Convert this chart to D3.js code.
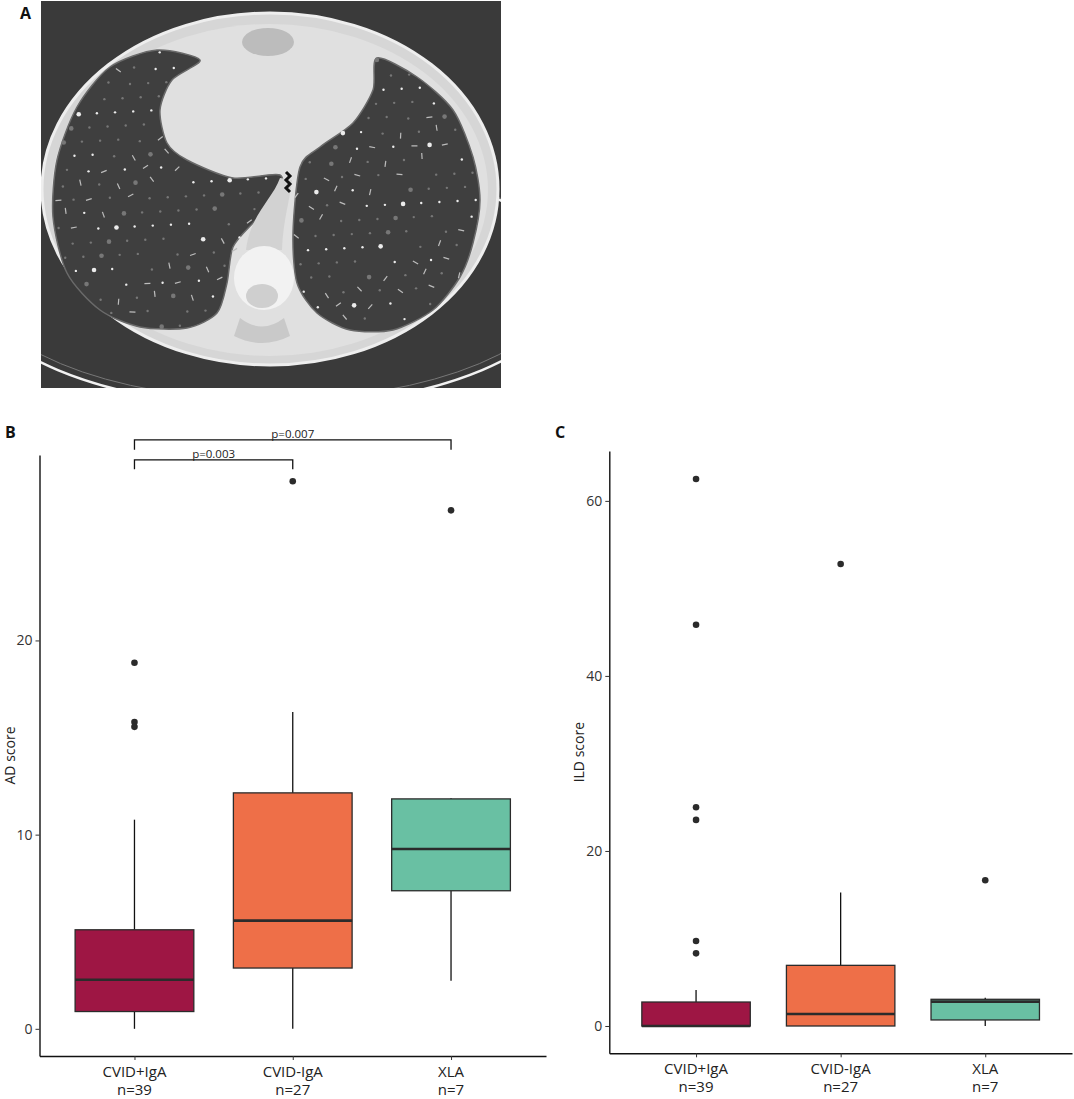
<!DOCTYPE html>
<html>
<head>
<meta charset="utf-8">
<script src="https://cdn.jsdelivr.net/npm/d3@7"></script>
<style>
  html, body { margin: 0; padding: 0; background: #fff; }
  svg { display: block; font-family: "Open Sans", "DejaVu Sans", sans-serif; }
</style>
</head>
<body>
<svg id="chart" width="1074" height="1099"></svg>
<script>
// ---------------- DATA ----------------
const categories = ["CVID+IgA", "CVID-IgA", "XLA"];
const nLabels = ["n=39", "n=27", "n=7"];
const groupColors = ["#9E1644", "#EE6F48", "#69C0A3"];

// Panel B : AD score
const adLow  = [0, 0, 2.47];
const adQ1   = [0.89, 3.13, 7.11];
const adMed  = [2.53, 5.57, 9.26];
const adQ3   = [5.1, 12.15, 11.84];
const adHigh = [10.77, 16.32, 11.87];
const adOutliers = [[18.85, 15.8, 15.55], [28.2], [26.7]];
const adTicks = [0, 10, 20];
const adDomain = [-1.4, 29.55];

// significance brackets for panel B : [from, to, label, bar level, tick end]
const adBrackets = [
  [0, 1, "p=0.003", 29.3, 28.82],
  [0, 2, "p=0.007", 30.33, 29.82]
];

// Panel C : ILD score
const ildLow  = [0, 0, 0];
const ildQ1   = [0, 0, 0.69];
const ildMed  = [0, 1.37, 2.78];
const ildQ3   = [2.74, 6.93, 3.05];
const ildHigh = [4.11, 15.24, 3.24];
const ildOutliers = [[62.5, 45.85, 25.0, 23.55, 9.71, 8.3], [52.78], [16.65]];
const ildTicks = [0, 20, 40, 60];
const ildDomain = [-3.12, 65.7];

// ---------------- DRAW ----------------
const svg = d3.select("#chart");
svg.append("rect").attr("width", 1074).attr("height", 1099).attr("fill", "#fff");

// ---------- Panel A : stylised CT slice ----------
(function drawCT() {
  const g = svg.append("g");
  const x0 = 41, y0 = 1, w = 460, h = 387;
  svg.append("clipPath").attr("id", "ctclip")
    .append("rect").attr("x", x0).attr("y", y0).attr("width", w).attr("height", h);
  const c = g.append("g").attr("clip-path", "url(#ctclip)");
  c.append("rect").attr("x", x0).attr("y", y0).attr("width", w).attr("height", h).attr("fill", "#3a3a3a");
  // table arcs
  c.append("ellipse").attr("cx", 270).attr("cy", 281).attr("rx", 300).attr("ry", 126)
    .attr("fill", "none").attr("stroke", "#f2f2f2").attr("stroke-width", 2.6);
  c.append("ellipse").attr("cx", 270).attr("cy", 276).attr("rx", 296).attr("ry", 124)
    .attr("fill", "none").attr("stroke", "#777").attr("stroke-width", 1);
  // body
  c.append("ellipse").attr("cx", 270).attr("cy", 189).attr("rx", 228).attr("ry", 176)
    .attr("fill", "#d6d6d6").attr("stroke", "#eeeeee").attr("stroke-width", 3);
  c.append("ellipse").attr("cx", 270).attr("cy", 190).attr("rx", 218).attr("ry", 166)
    .attr("fill", "#e0e0e0");
  // sternum area
  c.append("ellipse").attr("cx", 268).attr("cy", 42).attr("rx", 26).attr("ry", 14).attr("fill", "#bcbcbc");
  const line = d3.line().curve(d3.curveCardinalClosed.tension(0.2));
  const leftLung = [[157,50],[200,60],[172,80],[160,110],[167,143],[187,160],[233,178],[280,175],
    [277,200],[253,223],[233,247],[227,283],[217,313],[187,328],[140,327],[100,310],[67,273],
    [53,217],[57,160],[77,107],[110,67]];
  const rightLung = [[377,58],[417,77],[453,110],[473,157],[480,200],[473,243],[460,277],[433,310],
    [393,330],[350,330],[317,313],[297,283],[293,233],[300,167],[320,147],[353,123],[373,90]];
  [leftLung, rightLung].forEach(p => {
    c.append("path").attr("d", line(p)).attr("fill", "#3f3f3f").attr("stroke", "#6a6a6a").attr("stroke-width", 1.5);
  });
  // vessels: deterministic lattice of bright specks / short strokes inside the lungs
  const specks = [];
  for (let i = 0; i < 620; i++) {
    const px = x0 + ((i * 0.6180339887) % 1) * w;
    const py = y0 + ((i * 0.7548776662) % 1) * h;
    if (d3.polygonContains(leftLung, [px, py]) || d3.polygonContains(rightLung, [px, py])) specks.push([px, py, i]);
  }
  c.selectAll("line.vs").data(specks.filter(d => d[2] % 4 === 1)).join("line").attr("class", "vs")
    .attr("x1", d => d[0]).attr("y1", d => d[1])
    .attr("x2", d => d[0] + 6 * Math.cos(d[2])).attr("y2", d => d[1] + 6 * Math.sin(d[2]))
    .attr("stroke", "#bdbdbd").attr("stroke-width", 1.2);
  c.selectAll("circle.sp").data(specks.filter(d => d[2] % 4 !== 1)).join("circle").attr("class", "sp")
    .attr("cx", d => d[0]).attr("cy", d => d[1]).attr("r", d => (d[2] % 5 === 0 ? 2.3 : 1.2))
    .attr("fill", d => (d[2] % 3 === 0 ? "#ececec" : "#777"));
  // mediastinal column + spine
  c.append("path").attr("d", "M280,178 C272,200 250,215 246,250 L282,250 C283,220 290,200 292,180 Z").attr("fill", "#d2d2d2");
  c.append("ellipse").attr("cx", 264).attr("cy", 278).attr("rx", 30).attr("ry", 32).attr("fill", "#f2f2f2");
  c.append("ellipse").attr("cx", 262).attr("cy", 296).attr("rx", 16).attr("ry", 12).attr("fill", "#cfcfcf");
  c.append("path").attr("d", "M240,318 Q262,335 284,318 L290,336 Q262,350 234,336 Z").attr("fill", "#c9c9c9");
  c.append("path").attr("d", "M286,172 l4,4 -4,4 4,4 -4,4 4,4").attr("fill", "none").attr("stroke", "#111").attr("stroke-width", 3);
})();

// ---------- panel labels ----------
svg.append("text").attr("x", 20).attr("y", 19).attr("font-size", 16).attr("font-weight", "bold").attr("fill", "#111").text("A");
svg.append("text").attr("x", 5).attr("y", 438).attr("font-size", 16).attr("font-weight", "bold").attr("fill", "#111").text("B");
svg.append("text").attr("x", 555).attr("y", 438).attr("font-size", 16).attr("font-weight", "bold").attr("fill", "#111").text("C");

// ---------- box-plot panel ----------
function boxPanel(o) {
  const g = svg.append("g");
  const x = d3.scalePoint().domain(categories).range(o.xRange).padding(0.6);
  const y = d3.scaleLinear().domain(o.yDomain).range(o.yRange);
  const bw = x.step() * 0.75;

  // whiskers
  categories.forEach((cat, i) => {
    const cx = x(cat);
    g.append("line").attr("x1", cx).attr("x2", cx).attr("y1", y(o.q3[i])).attr("y2", y(o.high[i]))
      .attr("stroke", "#111").attr("stroke-width", 1.3);
    g.append("line").attr("x1", cx).attr("x2", cx).attr("y1", y(o.q1[i])).attr("y2", y(o.low[i]))
      .attr("stroke", "#111").attr("stroke-width", 1.3);
  });
  // boxes
  g.selectAll("rect.box").data(categories).join("rect").attr("class", "box")
    .attr("x", d => x(d) - bw / 2).attr("width", bw)
    .attr("y", (d, i) => y(o.q3[i])).attr("height", (d, i) => y(o.q1[i]) - y(o.q3[i]))
    .attr("fill", (d, i) => groupColors[i]).attr("stroke", "#2b2b2b").attr("stroke-width", 1.3);
  // medians
  g.selectAll("line.med").data(categories).join("line").attr("class", "med")
    .attr("x1", d => x(d) - bw / 2).attr("x2", d => x(d) + bw / 2)
    .attr("y1", (d, i) => y(o.med[i])).attr("y2", (d, i) => y(o.med[i]))
    .attr("stroke", "#2b2b2b").attr("stroke-width", 2.6);
  // outliers
  const pts = [];
  categories.forEach((cat, i) => o.out[i].forEach(v => pts.push([cat, v])));
  g.selectAll("circle.out").data(pts).join("circle").attr("class", "out")
    .attr("cx", d => x(d[0])).attr("cy", d => y(d[1])).attr("r", 3.3).attr("fill", "#2b2b2b");

  // y axis
  const ya = g.append("g").attr("transform", `translate(${o.xRange[0]},0)`)
    .call(d3.axisLeft(y).tickValues(o.ticks).tickSize(4).tickPadding(3).tickSizeOuter(0).tickFormat(d3.format("d")));
  ya.select(".domain").attr("stroke", "#111").attr("stroke-width", 1.4);
  ya.selectAll(".tick line").attr("stroke", "#333");
  ya.selectAll(".tick text").attr("font-size", 14).attr("fill", "#333").attr("font-family", "Open Sans");

  // x axis
  const xa = g.append("g").attr("transform", `translate(0,${o.yRange[0]})`)
    .call(d3.axisBottom(x).tickSize(4).tickSizeOuter(0).tickFormat(""));
  xa.select(".domain").attr("stroke", "#111").attr("stroke-width", 1.4);
  xa.selectAll(".tick line").attr("stroke", "#333");
  categories.forEach((cat, i) => {
    const t = g.append("text").attr("x", x(cat)).attr("text-anchor", "middle")
      .attr("font-size", 15).attr("fill", "#222");
    t.append("tspan").attr("x", x(cat)).attr("y", o.yRange[0] + 21).text(cat);
    t.append("tspan").attr("x", x(cat)).attr("y", o.yRange[0] + 39).text(nLabels[i]);
  });

  // y title
  g.append("text").attr("transform", `translate(${o.titleX},${(o.yRange[0] + o.yRange[1]) / 2}) rotate(-90)`)
    .attr("text-anchor", "middle").attr("dominant-baseline", "central")
    .attr("font-size", 14).attr("fill", "#222").text(o.title);

  // brackets
  (o.brackets || []).forEach(b => {
    const xa1 = x(categories[b[0]]), xa2 = x(categories[b[1]]);
    g.append("path")
      .attr("d", `M${xa1},${y(b[4])}V${y(b[3])}H${xa2}V${y(b[4])}`)
      .attr("fill", "none").attr("stroke", "#111").attr("stroke-width", 1.3);
    g.append("text").attr("x", (xa1 + xa2) / 2).attr("y", y(b[3]) - 2)
      .attr("text-anchor", "middle").attr("font-size", 11.5).attr("fill", "#222").text(b[2]);
  });
}

boxPanel({
  xRange: [39.5, 546], yRange: [1056, 455], yDomain: adDomain,
  low: adLow, q1: adQ1, med: adMed, q3: adQ3, high: adHigh, out: adOutliers,
  ticks: adTicks, title: "AD score", titleX: 9, brackets: adBrackets
});
boxPanel({
  xRange: [609.3, 1072], yRange: [1053.3, 451], yDomain: ildDomain,
  low: ildLow, q1: ildQ1, med: ildMed, q3: ildQ3, high: ildHigh, out: ildOutliers,
  ticks: ildTicks, title: "ILD score", titleX: 578
});
</script>
</body>
</html>
